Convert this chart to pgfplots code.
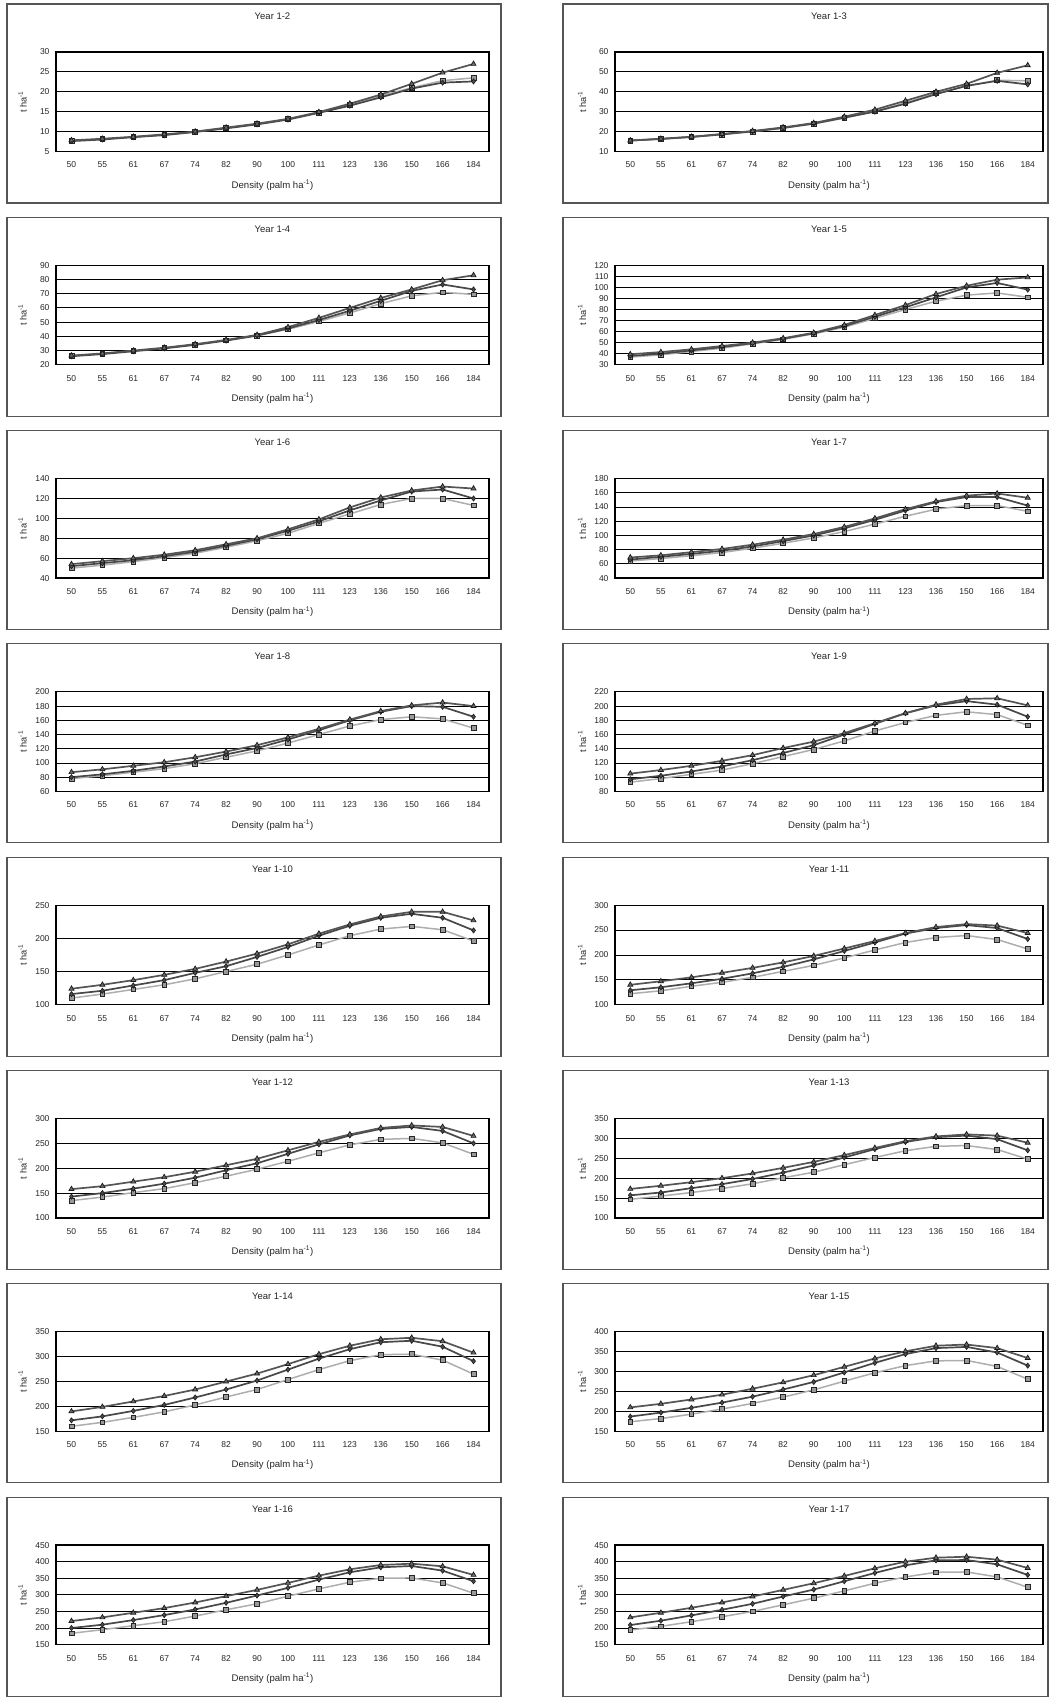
\documentclass[border=0pt]{standalone}
\usepackage{fontspec}
\setmainfont{Liberation Sans}
\usepackage{pgfplots}
\usepackage{pgfplotstable}
\pgfplotsset{compat=1.18}

\definecolor{trl}{HTML}{555555}
\definecolor{dil}{HTML}{484848}
\definecolor{sql}{HTML}{AEAEAE}
\definecolor{boxc}{HTML}{555555}

\pgfplotstableread{
x T D S
0 7.8 7.6 7.7
1 8.2 8.0 8.1
2 8.7 8.6 8.6
3 9.3 9.1 9.2
4 10.0 9.9 9.9
5 11.0 10.8 10.9
6 12.0 11.8 11.9
7 13.2 13.0 13.1
8 14.9 14.7 14.8
9 17.0 16.5 16.8
10 19.3 18.6 19.0
11 22.0 20.8 21.0
12 24.8 22.3 22.8
13 27.0 22.6 23.5
}\tabA
\pgfplotstableread{
x T D S
0 15.5 15.5 15.4
1 16.4 16.3 16.2
2 17.4 17.3 17.2
3 18.8 18.6 18.5
4 20.3 20.1 20.0
5 22.1 21.8 21.8
6 24.3 24.0 23.9
7 27.5 27.0 26.8
8 31.0 30.0 30.2
9 35.5 34.0 34.5
10 40.0 38.8 39.3
11 44.0 43.0 42.8
12 49.5 45.5 45.8
13 53.3 43.7 45.5
}\tabB
\pgfplotstableread{
x T D S
0 26.5 26.0 26.3
1 28.0 27.5 27.8
2 30.0 29.5 29.8
3 32.0 31.5 31.8
4 34.5 34.0 34.2
5 37.5 37.0 37.2
6 41.0 40.5 40.6
7 46.5 45.5 45.0
8 53.0 51.5 50.5
9 60.0 58.0 56.5
10 67.0 65.0 63.0
11 73.0 72.0 68.5
12 79.5 76.5 71.0
13 83.0 73.0 69.5
}\tabC
\pgfplotstableread{
x T D S
0 39.5 38.0 37.0
1 41.5 40.0 39.0
2 44.0 43.0 42.0
3 47.0 46.0 45.0
4 50.0 49.5 49.0
5 54.0 53.5 53.0
6 59.0 58.5 58.0
7 66.0 65.0 64.0
8 75.0 73.5 72.0
9 84.0 82.0 80.0
10 94.0 91.0 87.5
11 101.5 100.0 93.0
12 107.0 104.0 95.0
13 109.0 98.0 91.0
}\tabD
\pgfplotstableread{
x T D S
0 54 52 50
1 57 55 53
2 60 58 56.5
3 63.5 62 60.5
4 68 66.5 65
5 74 72.5 71
6 80 79 77.5
7 89 87.5 85
8 99 97 95
9 111 108 104.5
10 121 118 114
11 128 127 120
12 132 129 120
13 130 120 113
}\tabE
\pgfplotstableread{
x T D S
0 69 66 64
1 72 70 67.5
2 76.5 74 71.5
3 81 78.5 76
4 87 84.5 82
5 94 92 89
6 102 100 96.5
7 112 110 105.5
8 124 122 116
9 137 135 127
10 148 147 137
11 156 154 142
12 159 154 142
13 153 142 134
}\tabF
\pgfplotstableread{
x T D S
0 87 80 78
1 91 84 82
2 96 89 87
3 101 95 92
4 108 102 99
5 116 112 108
6 125 121 117
7 136 133 128
8 148 146 140
9 161 160 152
10 173 172 161
11 181 180 165
12 185 179 162
13 180 165 149
}\tabG
\pgfplotstableread{
x T D S
0 105 97 93
1 110 102 98
2 116 108 104
3 123 115 110
4 131 124 119
5 141 134 129
6 150 145 139
7 162 160 151
8 176 175 165
9 190 190 177
10 202 201 187
11 210 207 192
12 211 202 188
13 201 185 173
}\tabH
\pgfplotstableread{
x T D S
0 124 116 110
1 130 121 116
2 137 129 123
3 145 137 130
4 154 148 139
5 165 158 150
6 177 172 161
7 191 187 175
8 207 204 190
9 221 219 204
10 233 231 214
11 240 237 218
12 240 231 213
13 227 212 196
}\tabI
\pgfplotstableread{
x T D S
0 140 129 122
1 147 135 128
2 155 143 137
3 164 152 145
4 174 163 155
5 185 176 167
6 198 191 179
7 213 208 194
8 228 225 210
9 244 243 225
10 256 254 235
11 262 260 239
12 259 254 231
13 244 232 212
}\tabJ
\pgfplotstableread{
x T D S
0 158 143 135
1 164 150 142
2 173 159 151
3 182 169 159
4 193 181 171
5 206 196 184
6 219 210 198
7 236 229 214
8 253 248 231
9 268 266 247
10 281 279 258
11 286 283 260
12 283 275 251
13 265 250 228
}\tabK
\pgfplotstableread{
x T D S
0 173 157 147
1 181 164 155
2 190 175 164
3 200 185 174
4 212 198 186
5 226 214 201
6 241 232 215
7 258 252 234
8 276 273 252
9 293 291 269
10 305 303 280
11 310 307 282
12 307 298 272
13 289 270 248
}\tabL
\pgfplotstableread{
x T D S
0 190 172 160
1 199 180 168
2 210 191 178
3 221 203 189
4 234 218 203
5 250 234 219
6 266 252 234
7 285 274 254
8 305 296 274
9 322 315 292
10 335 329 304
11 338 332 305
12 331 320 293
13 308 291 265
}\tabM
\pgfplotstableread{
x T D S
0 210 187 174
1 219 197 182
2 230 209 193
3 242 222 206
4 257 237 220
5 273 255 236
6 291 274 254
7 312 298 276
8 333 322 297
9 351 344 315
10 365 359 327
11 368 362 328
12 359 348 313
13 334 315 281
}\tabN
\pgfplotstableread{
x T D S
0 221 200 184
1 232 210 195
2 246 224 207
3 260 239 219
4 277 256 236
5 296 276 255
6 315 298 273
7 336 321 296
8 358 346 318
9 377 368 338
10 390 383 350
11 394 387 351
12 386 373 336
13 360 341 305
}\tabO
\pgfplotstableread{
x T D S
0 232 209 194
1 246 222 205
2 261 238 219
3 277 255 234
4 295 273 250
5 315 295 270
6 335 316 290
7 357 341 312
8 380 366 335
9 400 389 354
10 412 404 368
11 415 405 369
12 406 392 354
13 381 360 323
}\tabP

\pgfplotsset{
  panel/.style={
    scale only axis, height=99.5pt, anchor=north west,
    xmin=-0.5, xmax=13.5,
    xtick={0,...,13},
    xticklabels={50,55,61,67,74,82,90,100,111,123,136,150,166,184},
    major tick length=0pt,
    ymajorgrids,
    grid style={black, line width=0.85pt},
    axis line style={black, line width=1.2pt},
    /pgf/number format/assume math mode=true,
    tick label style={font=\fontsize{8.5}{10}\selectfont, text=black!85},
    yticklabel style={xshift=-3pt},
    xticklabel style={anchor=center, yshift=-13.5pt},
    title style={at={(axis description cs:0.5,1)}, anchor=center, yshift=30pt, font=\fontsize{9.5}{11}\selectfont, text=black!85},
    xlabel={Density (palm ha\textsuperscript{-1})},
    xlabel style={at={(axis description cs:0.5,0)}, anchor=center, yshift=-33.5pt, font=\fontsize{9.6}{11}\selectfont, text=black!85},
    ylabel={t ha\textsuperscript{-1}},
    ylabel style={at={(axis description cs:-0.077,0.5)}, anchor=center, font=\fontsize{9.2}{11}\selectfont, text=black!85},
  },
  sq/.style={sql, line width=1.5pt, mark=square*, mark size=2.4pt,
    mark options={fill=black!40, draw=black!85, line width=0.7pt}},
  di/.style={dil, line width=1.7pt, mark=diamond*, mark size=2.6pt,
    mark options={fill=black!70, draw=black!90, line width=0.6pt}},
  tr/.style={trl, line width=1.7pt, mark=triangle*, mark size=2.9pt,
    mark options={fill=black!58, draw=black!90, line width=0.7pt}},
}

\newcommand{\panel}[8]{%
  \begin{axis}[panel, at={(#1pt,#2pt)}, width=#3pt, title={#4},
      ymin=#5, ymax=#6, ytick distance=#7]
    \addplot[sq] table[x=x,y=S]{#8};
    \addplot[di] table[x=x,y=D]{#8};
    \addplot[tr] table[x=x,y=T]{#8};
  \end{axis}%
}

\begin{document}
\begin{tikzpicture}
\useasboundingbox (0,0) rectangle (1058pt,1699pt);
\fill[white] (0,0) rectangle (1058pt,1699pt);
\foreach \t in {1647,1433.7,1220.4,1007.1,793.8,580.5,367.2,153.9}{
  \draw[boxc, line width=1.1pt] (7pt,\t pt+48pt) rectangle (501pt,\t pt-151pt);
  \draw[boxc, line width=1.1pt] (563pt,\t pt+48pt) rectangle (1048pt,\t pt-151pt);
}
\panel{56}{1647}{433}{Year 1-2}{5}{30}{5}{\tabA}
\panel{615}{1647}{428}{Year 1-3}{10}{60}{10}{\tabB}
\panel{56}{1433.7}{433}{Year 1-4}{20}{90}{10}{\tabC}
\panel{615}{1433.7}{428}{Year 1-5}{30}{120}{10}{\tabD}
\panel{56}{1220.4}{433}{Year 1-6}{40}{140}{20}{\tabE}
\panel{615}{1220.4}{428}{Year 1-7}{40}{180}{20}{\tabF}
\panel{56}{1007.1}{433}{Year 1-8}{60}{200}{20}{\tabG}
\panel{615}{1007.1}{428}{Year 1-9}{80}{220}{20}{\tabH}
\panel{56}{793.8}{433}{Year 1-10}{100}{250}{50}{\tabI}
\panel{615}{793.8}{428}{Year 1-11}{100}{300}{50}{\tabJ}
\panel{56}{580.5}{433}{Year 1-12}{100}{300}{50}{\tabK}
\panel{615}{580.5}{428}{Year 1-13}{100}{350}{50}{\tabL}
\panel{56}{367.2}{433}{Year 1-14}{150}{350}{50}{\tabM}
\panel{615}{367.2}{428}{Year 1-15}{150}{400}{50}{\tabN}
\panel{56}{153.9}{433}{Year 1-16}{150}{450}{50}{\tabO}
\panel{615}{153.9}{428}{Year 1-17}{150}{450}{50}{\tabP}
\end{tikzpicture}
\end{document}
